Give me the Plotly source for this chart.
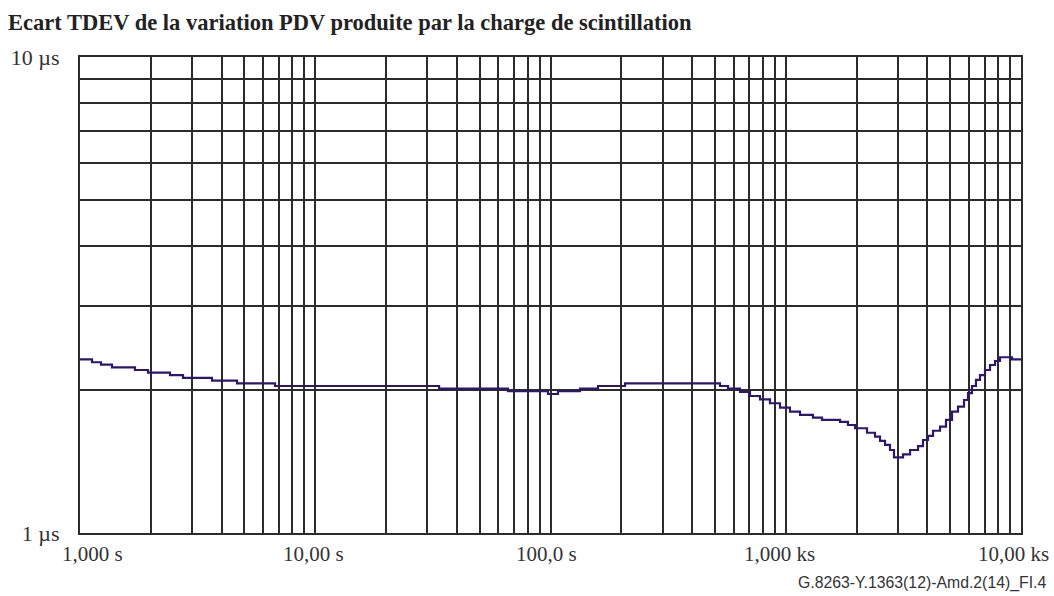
import math
import plotly.graph_objects as go

# Step-wise TDEV curve (tau in s, TDEV in µs)
tau_s = [1.00, 1.125, 1.228, 1.368, 1.713, 1.946, 2.413, 2.741, 3.640, 4.650,
         6.745, 33.6, 65.9, 97.6, 107.6, 133.5, 159.2, 207.4, 525.5, 568.3,
         639.0, 704.7, 777.3, 857.0, 945.4, 1042, 1150, 1305, 1426, 1701,
         1839, 1970, 2215, 2395, 2516, 2642, 2774, 2885, 3151, 3375,
         3650, 3832, 4024, 4227, 4526, 4800, 5090, 5398, 5724, 5953,
         6189, 6437, 6694, 7031, 7384, 7755, 8142, 9155, 10000]
tdev_us = [2.317, 2.284, 2.257, 2.229, 2.200, 2.172, 2.147, 2.117, 2.089, 2.063,
           2.036, 2.010, 1.985, 1.959, 1.985, 2.010, 2.036, 2.063, 2.036, 2.010,
           1.978, 1.940, 1.909, 1.873, 1.834, 1.798, 1.770, 1.747, 1.728, 1.711,
           1.686, 1.660, 1.624, 1.594, 1.561, 1.531, 1.494, 1.442, 1.463, 1.494,
           1.523, 1.568, 1.599, 1.640, 1.673, 1.728, 1.798, 1.842, 1.903, 1.968,
           2.036, 2.097, 2.147, 2.200, 2.254, 2.298, 2.340, 2.317, 2.317]

x_decades = [1, 10, 100, 1000, 10000]
x_decade_labels = ["1,000 s", "10,00 s", "100,0 s", "1,000 ks", "10,00 ks"]
x_label_shift = [12, -2, -4, -6, -8]
y_decades = [1, 10]
y_decade_labels = ["1 µs", "10 µs"]

title_text = "Ecart TDEV de la variation PDV produite par la charge de scintillation"
footnote_text = "G.8263-Y.1363(12)-Amd.2(14)_FI.4"

# grid positions: 1..9 x 10^k
x_grid = [m * d for d in x_decades[:-1] for m in range(1, 10)] + [x_decades[-1]]
y_grid = list(range(1, 11))
y_text = [y_decade_labels[y_decades.index(v)] if v in y_decades else "" for v in y_grid]

serif = "Liberation Serif"
grid_color = "#2b2b2b"
text_color = "#333333"

fig = go.Figure()
fig.add_trace(go.Scatter(
    x=tau_s, y=tdev_us, mode="lines", line=dict(color="#301570", width=2.2, shape="hv"),
    showlegend=False, hoverinfo="skip"))

annotations = [
    dict(text="<b>" + title_text + "</b>", xref="paper", yref="paper",
         x=-74/941, y=1 + 35/476, xanchor="left", yanchor="middle", showarrow=False,
         font=dict(family=serif, size=22.5, color="#222222")),
    dict(text=footnote_text, xref="paper", yref="paper",
         x=1 + 27/941, y=-50/476, xanchor="right", yanchor="middle", showarrow=False,
         font=dict(family="Liberation Sans", size=15.8, color=text_color)),
]
for v, lab, sh in zip(x_decades, x_decade_labels, x_label_shift):
    annotations.append(dict(
        text=lab, xref="x", yref="paper", x=math.log10(v), y=-21/476,
        xanchor="center", yanchor="middle", xshift=sh, showarrow=False,
        font=dict(family=serif, size=21, color=text_color)))

fig.update_layout(
    width=1054, height=596,
    margin=dict(l=80, r=33, t=57, b=63),
    paper_bgcolor="white", plot_bgcolor="white",
    showlegend=False,
    annotations=annotations,
)
fig.update_xaxes(
    type="log", range=[0, 4], tickmode="array", tickvals=x_grid,
    ticktext=[""] * len(x_grid),
    showgrid=True, gridcolor=grid_color, gridwidth=2,
    showline=True, linecolor=grid_color, linewidth=2, mirror=True,
    ticks="", zeroline=False)
fig.update_yaxes(
    type="log", range=[0, 1], tickmode="array", tickvals=y_grid, ticktext=y_text,
    showgrid=True, gridcolor=grid_color, gridwidth=2,
    showline=True, linecolor=grid_color, linewidth=2, mirror=True,
    ticks="", ticklabelstandoff=14, zeroline=False,
    tickfont=dict(family=serif, size=22, color=text_color))

fig.write_html("out.html")
